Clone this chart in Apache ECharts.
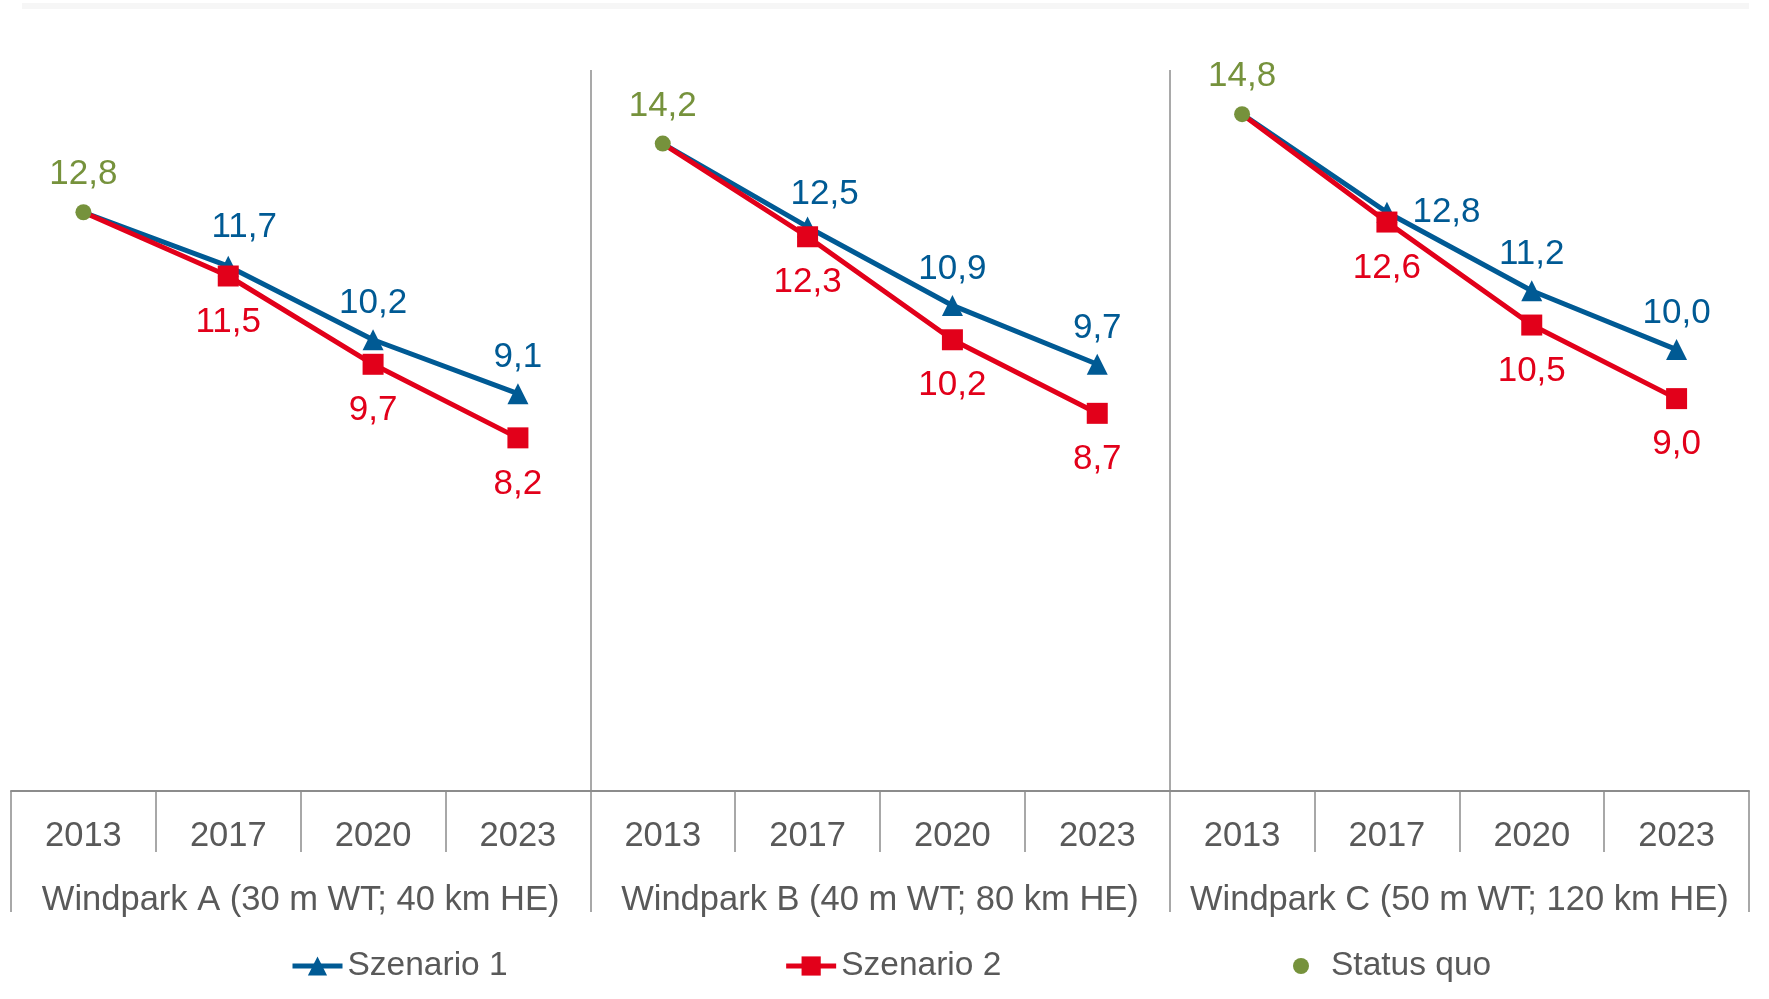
<!DOCTYPE html>
<html>
<head>
<meta charset="utf-8">
<title>Windpark Szenarien</title>
<script src="https://cdn.jsdelivr.net/npm/echarts@6/dist/echarts.min.js"></script>
<style>
    html, body { margin: 0; padding: 0; background: #fff; }
    #chart { width: 1769px; height: 999px; }
</style>
</head>
<body>
<div id="chart"></div>
<script>
// values
const years = ['2013', '2017', '2020', '2023'];
const parks = [
    'Windpark A (30 m WT; 40 km HE)',
    'Windpark B (40 m WT; 80 km HE)',
    'Windpark C (50 m WT; 120 km HE)'
];
const statusQuo = [12.8, 14.2, 14.8];
const szenario1 = [
    [11.7, 10.2, 9.1],
    [12.5, 10.9, 9.7],
    [12.8, 11.2, 10.0]
];
const szenario2 = [
    [11.5, 9.7, 8.2],
    [12.3, 10.2, 8.7],
    [12.6, 10.5, 9.0]
];

const BLUE = '#005a94';
const RED = '#e2001a';
const GREEN = '#76923c';
const GREY_TEXT = '#595959';
const GREY_LINE = '#8c8c8c';
const FONT = 'Liberation Sans, Arial, sans-serif';

// one category per park/year pair, shown as the year only
const categories = [];
parks.forEach((park, p) => years.forEach(y => categories.push(p + '|' + y)));

const fmt = v => v.toFixed(1).replace('.', ',');

// a few labels sit a bit off their default spot in the original
function s1Label(p, i) {
    if (p === 2 && i === 0) {
        return { position: 'right', distance: 15 };
    }
    if (p === 0 && i === 0) {
        return { offset: [16, -3] };
    }
    if (i === 0) {
        return { offset: [17, 3] };
    }
    return {};
}

const series = [];

parks.forEach((park, p) => {
    const base = p * years.length;

    const d1 = categories.map(() => null);
    const d2 = categories.map(() => null);

    // both scenarios start at the status quo point
    d1[base] = { value: statusQuo[p], symbol: 'none', label: { show: false } };
    d2[base] = { value: statusQuo[p], symbol: 'none', label: { show: false } };

    szenario1[p].forEach((v, i) => {
        d1[base + i + 1] = { value: v, label: s1Label(p, i) };
    });
    szenario2[p].forEach((v, i) => {
        d2[base + i + 1] = { value: v };
    });

    series.push({
        name: 'Szenario 1',
        type: 'line',
        data: d1,
        symbol: 'triangle',
        symbolSize: 21,
        connectNulls: false,
        lineStyle: { color: BLUE, width: 5 },
        itemStyle: { color: BLUE },
        label: {
            show: true,
            position: 'top',
            distance: 8,
            color: BLUE,
            fontSize: 35,
            formatter: o => fmt(o.value)
        },
        z: 2
    });

    series.push({
        name: 'Szenario 2',
        type: 'line',
        data: d2,
        symbol: 'rect',
        symbolSize: 21,
        connectNulls: false,
        lineStyle: { color: RED, width: 5 },
        itemStyle: { color: RED },
        label: {
            show: true,
            position: 'bottom',
            distance: 18,
            color: RED,
            fontSize: 35,
            formatter: o => fmt(o.value)
        },
        z: 3
    });
});

series.push({
    name: 'Status quo',
    type: 'scatter',
    data: statusQuo.map((v, p) => [p * years.length, v]),
    symbol: 'circle',
    symbolSize: 16,
    itemStyle: { color: GREEN, opacity: 1 },
    label: {
        show: true,
        position: 'top',
        distance: 12,
        color: GREEN,
        fontSize: 35,
        formatter: o => fmt(o.value[1])
    },
    z: 4
});

const chart = echarts.init(document.getElementById('chart'));

chart.setOption({
    animation: false,
    backgroundColor: '#fff',
    textStyle: { fontFamily: FONT },
    graphic: [
        {
            type: 'rect',
            left: 22,
            top: 3,
            shape: { width: 1727, height: 6 },
            style: { fill: '#f6f6f6' },
            silent: true
        }
    ],
    grid: {
        left: 11,
        right: 20,
        top: 70,
        bottom: 208
    },
    legend: [
        {
            data: ['Szenario 1', 'Szenario 2'],
            left: 290,
            top: 949,
            padding: 0,
            itemWidth: 50,
            itemHeight: 24,
            itemGap: 276,
            lineStyle: { width: 5 },
            textStyle: { color: GREY_TEXT, fontSize: 33.5, fontFamily: FONT }
        },
        {
            data: [{ name: 'Status quo', icon: 'circle', itemStyle: { opacity: 1 } }],
            left: 1293,
            top: 949,
            padding: 0,
            itemWidth: 50,
            itemHeight: 16,
            textStyle: { color: GREY_TEXT, fontSize: 33.5, fontFamily: FONT }
        }
    ],
    xAxis: [
        {
            type: 'category',
            position: 'bottom',
            data: categories,
            boundaryGap: true,
            axisLine: { show: true, lineStyle: { color: GREY_LINE, width: 2 } },
            axisTick: {
                show: true,
                interval: 0,
                length: 61,
                lineStyle: { color: GREY_LINE, width: 1.5 }
            },
            axisLabel: {
                interval: 0,
                margin: 28,
                color: GREY_TEXT,
                fontSize: 34.5,
                formatter: v => v.split('|')[1]
            },
            splitLine: { show: false }
        },
        {
            type: 'category',
            position: 'bottom',
            data: parks,
            boundaryGap: true,
            axisLine: { show: false },
            axisTick: {
                show: true,
                interval: 0,
                length: 121,
                lineStyle: { color: GREY_LINE, width: 1.5 }
            },
            axisLabel: {
                interval: 0,
                margin: 92,
                color: GREY_TEXT,
                fontSize: 34.5
            },
            splitLine: {
                show: true,
                interval: 0,
                showMinLine: false,
                showMaxLine: false,
                lineStyle: { color: GREY_LINE, width: 1.5 }
            }
        }
    ],
    yAxis: {
        type: 'value',
        min: 1,
        max: 15.7,
        show: false,
        splitLine: { show: false }
    },
    series
});
</script>
</body>
</html>
